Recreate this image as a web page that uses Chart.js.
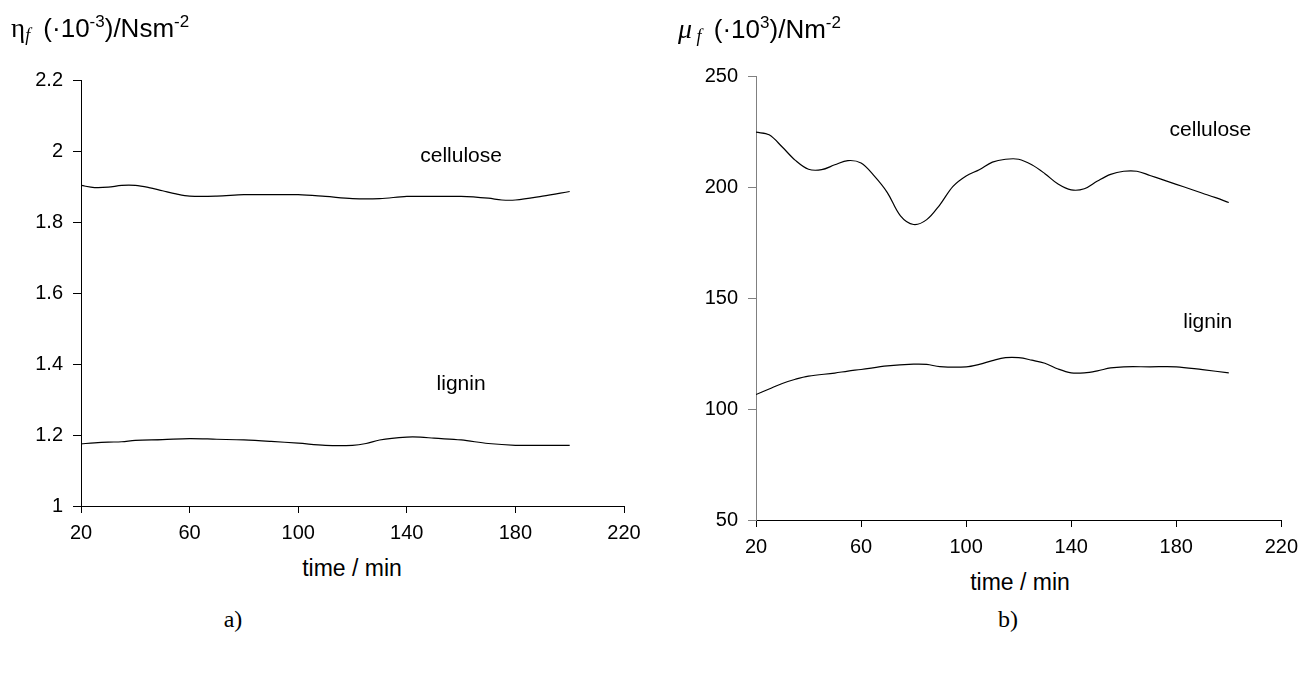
<!DOCTYPE html>
<html><head><meta charset="utf-8">
<script src="https://cdn.jsdelivr.net/npm/chart.js@4.4.1/dist/chart.umd.min.js"></script>
<style>
body{margin:0;width:1306px;height:677px;background:#fff;position:relative;overflow:hidden;font-family:"Liberation Sans",Arial,sans-serif;color:#000;}
.c{position:absolute;}
.t{position:absolute;white-space:nowrap;line-height:1;}
.up{position:relative;top:-10px;font-size:17px;}
</style></head><body>
<div class="c" style="left:0;top:0;width:660px;height:540px"><canvas id="chartA"></canvas></div>
<div class="c" style="left:680px;top:0;width:626px;height:554px"><canvas id="chartB"></canvas></div>

<div class="t" style="left:11px;top:15px;font-size:26px"><span style="font-family:'Liberation Serif';font-size:27px">η</span><span style="font-family:'Liberation Serif';font-style:italic;font-size:18px;position:relative;top:4px;margin-right:6px">f</span> (·10<span class="up">-3</span>)/Nsm<span class="up">-2</span></div>
<div class="t" style="left:678px;top:15px;font-size:26px"><span style="font-family:'Liberation Serif';font-style:italic;font-size:28px">μ</span><span style="font-family:'Liberation Serif';font-style:italic;font-size:18px;position:relative;top:4px;margin-right:5px"> f</span> (·10<span class="up">3</span>)/Nm<span class="up">-2</span></div>

<div class="t" style="left:352px;top:557px;font-size:23px;transform:translateX(-50%)">time / min</div>
<div class="t" style="left:1020px;top:571px;font-size:23px;transform:translateX(-50%)">time / min</div>
<div class="t" style="left:233px;top:607px;font-size:24px;font-family:'Liberation Serif';transform:translateX(-50%)">a)</div>
<div class="t" style="left:1008px;top:607px;font-size:24px;font-family:'Liberation Serif';transform:translateX(-50%)">b)</div>

<script>
// ---- data ----
const xTicks = [20, 60, 100, 140, 180, 220];
const leftYTicks = [1, 1.2, 1.4, 1.6, 1.8, 2, 2.2];
const rightYTicks = [50, 100, 150, 200, 250];

const etaCelluloseTime = [20,25,30,35,40,45,50,55,60,70,80,90,100,110,120,130,140,150,160,170,175,180,190,200];
const etaCellulose     = [1.903,1.897,1.898,1.903,1.903,1.897,1.888,1.879,1.873,1.873,1.877,1.877,1.877,1.872,1.866,1.866,1.872,1.872,1.872,1.867,1.862,1.862,1.873,1.886];

const etaLigninTime = [20,25,30,35,40,50,60,70,80,90,100,110,120,125,130,140,145,150,160,170,180,190,200];
const etaLignin     = [1.175,1.178,1.180,1.181,1.185,1.187,1.190,1.188,1.186,1.182,1.177,1.171,1.171,1.176,1.186,1.194,1.194,1.191,1.186,1.176,1.171,1.171,1.171];

const muCelluloseTime = [20,25,30,35,40,45,50,55,60,65,70,75,80,85,90,95,100,105,110,115,120,125,130,135,140,145,150,155,160,165,170,175,180,185,190,195,200];
const muCellulose     = [224.7,223.5,218,212,208,207.8,210,211.9,210.8,205,197.5,187,183.1,185.3,192,200.3,205,207.8,211.2,212.5,212.5,210,206,201.3,198.7,199.2,202.7,205.7,207.1,207.1,205.2,203.2,201.2,199.2,197.2,195.2,193];

const muLigninTime = [20,25,30,35,40,50,55,60,70,80,85,90,100,105,110,115,120,125,130,135,140,145,150,155,160,170,180,190,200];
const muLignin     = [106.5,109,111.5,113.4,114.8,116.2,117.1,117.8,119.4,120.2,120.1,119.1,119.0,120.1,121.8,123.1,123.1,122,120.6,118,116.3,116.3,117.2,118.5,119,119,119,117.7,116.3];

// ---- helpers ----
const pts = (xs, ys) => xs.map((x, i) => ({x, y: ys[i]}));
const FONT = {family: "'Liberation Sans', Arial, sans-serif", size: 20};

const notesPlugin = {
  id: 'notes',
  afterDatasetsDraw(chart, args, opts) {
    const {ctx, scales: {x, y}} = chart;
    ctx.save();
    ctx.font = "21px 'Liberation Sans', Arial, sans-serif";
    ctx.fillStyle = '#000';
    ctx.textAlign = 'center';
    ctx.textBaseline = 'middle';
    (opts.items || []).forEach(n => ctx.fillText(n.text, x.getPixelForValue(n.x), y.getPixelForValue(n.y)));
    ctx.restore();
  }
};

function makeChart(id, datasets, yMin, yMax, yTicks, pad, yWidth, xHeight, yAxisColor, notes) {
  return new Chart(document.getElementById(id), {
    type: 'line',
    data: {datasets: datasets.map(d => ({label: d.label, data: d.data, borderColor: '#000', borderWidth: 1.2, pointRadius: 0, tension: 0.35, fill: false}))},
    plugins: [notesPlugin],
    options: {
      responsive: true, maintainAspectRatio: false, animation: false,
      layout: {padding: pad},
      plugins: {legend: {display: false}, tooltip: {enabled: false}, notes: {items: notes}},
      scales: {
        x: {
          type: 'linear', min: 20, max: 220,
          afterBuildTicks: s => { s.ticks = xTicks.map(v => ({value: v})); },
          afterFit: s => { s.height = xHeight; },
          ticks: {font: FONT, color: '#000', padding: 8, maxRotation: 0, autoSkip: false, callback: v => String(v)},
          grid: {drawOnChartArea: false, drawTicks: true, tickLength: 7, color: '#000'},
          border: {display: true, color: '#000', width: 1}
        },
        y: {
          type: 'linear', min: yMin, max: yMax,
          afterBuildTicks: s => { s.ticks = yTicks.map(v => ({value: v})); },
          afterFit: s => { s.width = yWidth; },
          ticks: {font: FONT, color: '#000', padding: 10, autoSkip: false, callback: v => String(+v.toFixed(2))},
          grid: {drawOnChartArea: false, drawTicks: true, tickLength: 8, color: yAxisColor},
          border: {display: true, color: yAxisColor, width: 1}
        }
      }
    }
  });
}

makeChart('chartA',
  [{label: 'cellulose', data: pts(etaCelluloseTime, etaCellulose)},
   {label: 'lignin', data: pts(etaLigninTime, etaLignin)}],
  1, 2.2, leftYTicks, {top: 80, right: 36, left: 0, bottom: 0}, 81, 34, '#000',
  [{text: 'cellulose', x: 160, y: 1.985}, {text: 'lignin', x: 160, y: 1.342}]);

makeChart('chartB',
  [{label: 'cellulose', data: pts(muCelluloseTime, muCellulose)},
   {label: 'lignin', data: pts(muLigninTime, muLignin)}],
  50, 250, rightYTicks, {top: 76, right: 21, left: 0, bottom: 0}, 76, 34, '#808080',
  [{text: 'cellulose', x: 193, y: 225.6}, {text: 'lignin', x: 192, y: 139}]);
</script>
</body></html>
